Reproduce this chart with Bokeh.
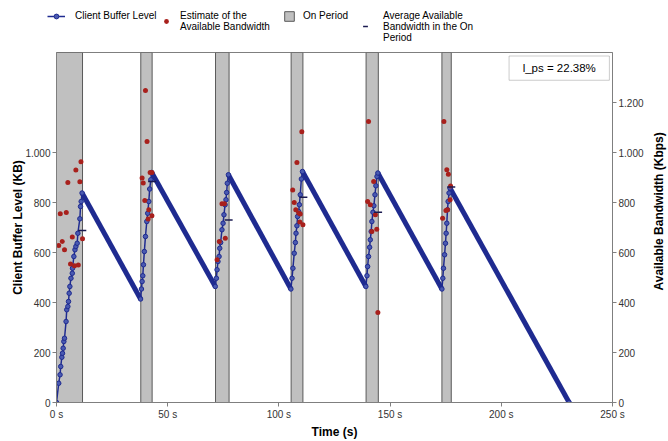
import math
from bokeh.plotting import figure
from bokeh.layouts import column, row
from bokeh.models import (Range1d, LinearAxis, FixedTicker, Legend, LegendItem,
                          BoxAnnotation, Label)
from bokeh.embed import file_html
from bokeh.resources import INLINE

# ---------------- data ----------------
on_start = [0.0, 37.9, 71.5, 105.5, 139.2, 173.3]
on_end = [11.7, 43.0, 77.6, 110.8, 144.7, 177.5]

p1_t = [0.0, 1.0, 1.6, 1.9, 2.4, 2.7, 3.0, 3.3, 3.6, 4.3, 4.6, 5.1, 5.4, 5.7, 6.0, 6.5, 7.1, 7.2, 7.8, 8.3, 8.7, 9.3, 9.6, 10.5, 10.8, 11.1, 11.5]
p1_kb = [0, 77, 111, 144, 181, 197, 217, 244, 257, 324, 371, 384, 404, 437, 464, 497, 517, 537, 584, 611, 624, 637, 677, 735, 784, 804, 838]
p2_t = [37.8, 38.2, 38.5, 38.8, 39.1, 39.5, 40.0, 40.6, 41.0, 41.5, 41.9, 42.4, 42.8]
p2_kb = [414, 454, 484, 507, 551, 604, 664, 724, 757, 804, 854, 891, 920]
p3_t = [71.4, 71.9, 72.2, 72.6, 73.1, 73.4, 73.8, 74.4, 74.9, 75.3, 75.8, 76.2, 76.5, 76.8, 77.3]
p3_kb = [464, 497, 531, 564, 584, 617, 640, 691, 717, 751, 791, 811, 840, 877, 911]
p4_t = [105.4, 105.9, 106.3, 106.9, 107.4, 107.7, 108.1, 108.4, 108.9, 109.2, 109.6, 110.1, 110.6]
p4_kb = [454, 497, 537, 597, 640, 677, 707, 744, 764, 791, 831, 894, 924]
p5_t = [139.1, 139.6, 139.9, 140.3, 140.8, 141.1, 141.5, 141.8, 142.3, 142.7, 143.2, 143.6, 144.1, 144.5]
p5_kb = [464, 507, 544, 584, 621, 651, 684, 724, 761, 787, 831, 867, 904, 918]
p6_t = [173.3, 173.7, 174.0, 174.5, 174.9, 175.2, 175.5, 175.8, 176.1, 176.5, 176.9]
p6_kb = [454, 497, 537, 591, 637, 677, 717, 771, 804, 838, 858]
empty_t = [230.5]
empty_kb = [0]

bw_t = [1.0, 1.7, 2.6, 3.6, 4.4, 5.1, 6.3, 7.1, 8.1, 8.7, 9.8, 10.5, 11.0, 11.7,
        38.5, 39.0, 39.7, 40.0, 40.7, 41.2, 41.5, 42.1, 42.9, 42.9,
        72.2, 73.2, 74.4, 75.5, 75.9,
        106.2, 106.9, 107.6, 108.1, 108.9, 109.4, 109.6, 110.3, 110.8,
        139.9, 140.3, 141.1, 141.8, 142.6, 143.4, 144.0, 144.5,
        173.6, 174.2, 175.1, 175.5, 175.8, 176.2, 177.0, 177.2]
bw_kbps = [628, 755, 644, 611, 760, 880, 554, 662, 547, 930, 550, 883, 963, 655,
           898, 878, 808, 1248, 1044, 734, 771, 920, 920, 747,
           571, 644, 795, 795, 657,
           850, 800, 771, 960, 758, 722, 754, 1083, 711,
           804, 1124, 791, 684, 884, 751, 693, 360,
           737, 1124, 768, 931, 771, 913, 811, 866]

avg_t = [11.6, 43.0, 77.4, 111.0, 144.6, 177.5]
avg_kbps = [688, 884, 730, 821, 761, 862]

x_ticks = [0, 50, 100, 150, 200, 250]
x_tick_labels = ["0 s", "50 s", "100 s", "150 s", "200 s", "250 s"]
left_ticks = [0, 200, 400, 600, 800, 1000]
left_tick_labels = ["0", "200", "400", "600", "800", "1.000"]
right_ticks = [0, 200, 400, 600, 800, 1000, 1200]
right_tick_labels = ["0", "200", "400", "600", "800", "1.000", "1.200"]

legend_labels = ["Client Buffer Level", "Estimate of the\nAvailable Bandwidth",
                 "On Period", "Average Available\nBandwidth in the On\nPeriod"]
title_x = "Time (s)"
title_left = "Client Buffer Level (KB)"
title_right = "Available Bandwidth (Kbps)"
note_text = "l_ps = 22.38%"

# ---------------- style ----------------
FONT = "'Liberation Sans', Arial, sans-serif"
NAVY = "#1f2b90"
RED = "#a8201c"
BAND_FILL = "#c0c0c0"
BAND_LINE = "#5a5a5a"
MARK_FILL = "#4a5ab0"
DASH = "#1a1a50"

periods_t = [p1_t, p2_t, p3_t, p4_t, p5_t, p6_t, empty_t]
periods_kb = [p1_kb, p2_kb, p3_kb, p4_kb, p5_kb, p6_kb, empty_kb]
buf_t = [v for seg in periods_t for v in seg]
buf_kb = [v for seg in periods_kb for v in seg]
peak_t = [seg[-1] for seg in periods_t[:-1]]
peak_kb = [seg[-1] for seg in periods_kb[:-1]]
trough_t = [seg[0] for seg in periods_t[1:]]
trough_kb = [seg[0] for seg in periods_kb[1:]]

# ---------------- main plot ----------------
p = figure(width=646, height=390, output_backend="svg", toolbar_location=None,
           x_range=Range1d(0, 250), y_range=Range1d(0, 1400),
           min_border_left=56, min_border_right=34, min_border_top=1,
           min_border_bottom=37)
p.xgrid.visible = False
p.ygrid.visible = False
p.outline_line_color = "#7f7f7f"
p.background_fill_color = "white"

p.quad(left=on_start, right=on_end, bottom=0, top=1400,
       fill_color=BAND_FILL, line_color=BAND_LINE, line_width=1)
p.segment(x0=peak_t, y0=peak_kb, x1=trough_t, y1=trough_kb,
          line_color=NAVY, line_width=5)
p.line(buf_t, buf_kb, line_color=NAVY, line_width=1.5)
p.scatter(buf_t, buf_kb, marker="circle", size=4.5, line_color=NAVY,
          fill_color=MARK_FILL, line_width=1)
p.scatter(bw_t, bw_kbps, marker="circle", size=5, line_color=None, fill_color=RED)
p.scatter(avg_t, avg_kbps, marker="dash", size=8, line_color=DASH, line_width=1.5)


def style_axis(ax):
    ax.axis_line_color = "#7f7f7f"
    ax.major_tick_line_color = "#7f7f7f"
    ax.major_tick_out = 4
    ax.major_tick_in = 0
    ax.minor_tick_line_color = None
    ax.major_label_text_font = FONT
    ax.major_label_text_font_size = "10px"
    ax.major_label_text_color = "#333333"
    ax.major_label_standoff = 2
    ax.axis_label_text_font = FONT
    ax.axis_label_text_font_size = "12px"
    ax.axis_label_text_font_style = "bold"
    ax.axis_label_text_color = "black"
    ax.axis_label_standoff = 2


xa = p.xaxis[0]
style_axis(xa)
xa.ticker = FixedTicker(ticks=x_ticks)
xa.major_label_overrides = dict(zip(x_ticks, x_tick_labels))
xa.axis_label = title_x

ya = p.yaxis[0]
style_axis(ya)
ya.ticker = FixedTicker(ticks=left_ticks)
ya.major_label_overrides = dict(zip(left_ticks, left_tick_labels))
ya.axis_label = title_left
ya.axis_label_standoff = -3

ra = LinearAxis()
style_axis(ra)
ra.ticker = FixedTicker(ticks=right_ticks)
ra.major_label_overrides = dict(zip(right_ticks, right_tick_labels))
p.add_layout(ra, "right")

# l_ps box
p.add_layout(BoxAnnotation(left=203.5, right=248.6, bottom=1289, top=1386,
                           fill_color="white", fill_alpha=1,
                           line_color="#555555", line_width=1))
p.add_layout(Label(x=226.05, y=1337, text=note_text, text_align="center",
                   text_baseline="middle", text_font=FONT,
                   text_font_size="11.5px", text_color="black"))

# ---------------- right title strip ----------------
rt = figure(width=22, height=390, output_backend="svg", toolbar_location=None,
            x_range=Range1d(0, 22), y_range=Range1d(0, 390),
            x_axis_type=None, y_axis_type=None, min_border=0,
            min_border_left=0, min_border_right=0, min_border_top=0,
            min_border_bottom=0)
rt.outline_line_color = None
rt.add_layout(Label(x=12, y=213, text=title_right, angle=math.pi / 2,
                    text_align="center", text_baseline="middle", text_font=FONT,
                    text_font_size="12px", text_font_style="bold",
                    text_color="black"))

# ---------------- legend strip ----------------
# proxies drawn from the same data, kept outside this strip's view
lg = figure(width=668, height=51, output_backend="svg", toolbar_location=None,
            x_range=Range1d(-20, -10), y_range=Range1d(-20, -10),
            x_axis_type=None, y_axis_type=None, min_border=0,
            min_border_left=0, min_border_right=0, min_border_top=0,
            min_border_bottom=0)
lg.outline_line_color = None
r_line = lg.line(buf_t, buf_kb, line_color=NAVY, line_width=1.5)
r_pts = lg.scatter(buf_t, buf_kb, marker="circle", size=4.5, line_color=NAVY,
                   fill_color=MARK_FILL, line_width=1)
r_bw = lg.scatter(bw_t, bw_kbps, marker="circle", size=5, line_color=None,
                  fill_color=RED)
r_band = lg.quad(left=on_start, right=on_end, bottom=0, top=1400,
                 fill_color=BAND_FILL, line_color=BAND_LINE, line_width=1)
r_avg = lg.scatter(avg_t, avg_kbps, marker="dash", size=8, line_color=DASH,
                   line_width=1.5)

leg_common = dict(orientation="vertical", padding=0, margin=0, spacing=0,
                  glyph_height=12, label_height=12, label_width=10,
                  border_line_color=None, background_fill_alpha=0,
                  label_text_font=FONT, label_text_font_size="10px",
                  label_text_line_height=1.35, label_text_color="black")
specs = [
    (legend_labels[0], [r_line, r_pts], (47, 29.5), 18, 10),
    (legend_labels[1], [r_bw], (160, 19), 12, 8),
    (legend_labels[2], [r_band], (283, 29.5), 12, 8),
    (legend_labels[3], [r_avg], (359, 8.5), 12, 12),
]
for text, rends, loc, gw, so in specs:
    lg.add_layout(Legend(items=[LegendItem(label=text, renderers=rends)],
                         location=loc, glyph_width=gw, label_standoff=so,
                         **leg_common), "center")

layout = column(lg, row(p, rt, spacing=0), spacing=0)
open("out.html", "w").write(file_html(layout, INLINE))
